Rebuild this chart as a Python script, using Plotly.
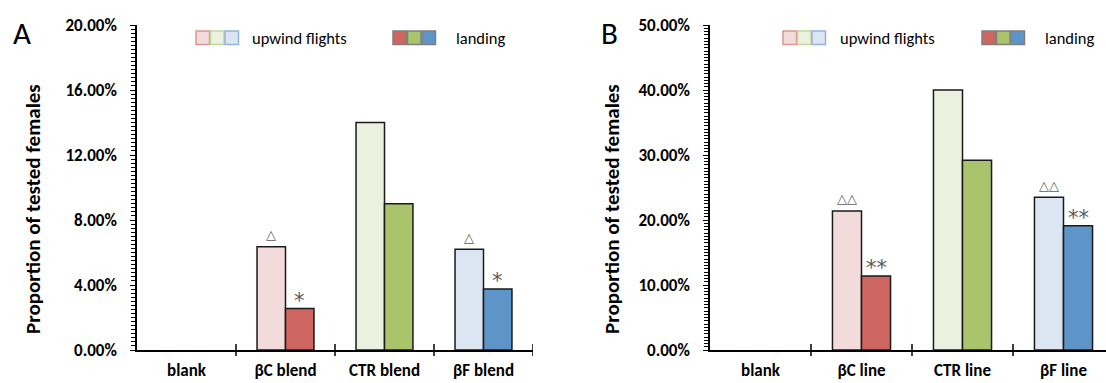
import plotly.graph_objects as go

# ---------------- data ----------------
cats_a = ["blank", "βC blend", "CTR blend", "βF blend"]
cats_b = ["blank", "βC line", "CTR line", "βF line"]

upwind_a = [0, 6.35, 14.0, 6.2]
landing_a = [0, 2.55, 9.0, 3.75]
upwind_b = [0, 21.4, 40.0, 23.5]
landing_b = [0, 11.4, 29.2, 19.1]

sig_up_a = ["", "△", "", "△"]
sig_land_a = ["", "*", "", "*"]
sig_up_b = ["", "△△", "", "△△"]
sig_land_b = ["", "**", "", "**"]

light_cols = ["#F2DCDB", "#F2DCDB", "#EBF1DE", "#DCE6F2"]
dark_cols = ["#CD6660", "#CD6660", "#AAC46C", "#5D95C9"]
legend_border = ["#D99694", "#C3D69B", "#95B3D7"]

# ---------------- layout geometry (px) ----------------
W, H = 1106, 383
T, B = 25, 33
PH = H - T - B
FONT = "Carlito, Lato, 'Open Sans', sans-serif"


def px_x(p):
    return p / W


def px_y(p):
    return (H - B - p) / PH


def line_widths(vals):
    return [1.5 if v > 0 else 0 for v in vals]


fig = go.Figure()

fig.add_trace(go.Bar(x=cats_a, y=upwind_a,
                     marker=dict(color=light_cols, line=dict(color="#1a1a1a", width=line_widths(upwind_a))),
                     xaxis="x", yaxis="y", showlegend=False))
fig.add_trace(go.Bar(x=cats_a, y=landing_a,
                     marker=dict(color=dark_cols, line=dict(color="#1a1a1a", width=line_widths(landing_a))),
                     xaxis="x", yaxis="y", showlegend=False))
fig.add_trace(go.Bar(x=cats_b, y=upwind_b,
                     marker=dict(color=light_cols, line=dict(color="#1a1a1a", width=line_widths(upwind_b))),
                     xaxis="x2", yaxis="y2", showlegend=False))
fig.add_trace(go.Bar(x=cats_b, y=landing_b,
                     marker=dict(color=dark_cols, line=dict(color="#1a1a1a", width=line_widths(landing_b))),
                     xaxis="x2", yaxis="y2", showlegend=False))

BARGAP = 0.425
half = (1 - BARGAP) / 4.0  # offset of each bar centre from category centre

tickfont = dict(family=FONT, size=17, color="black", weight="bold")
catfont = dict(family=FONT, size=17, color="black", weight="bold")

xa_common = dict(type="category", showline=True, linecolor="black", linewidth=1.5,
                 ticks="", ticklen=0, tickfont=catfont, showgrid=False, zeroline=False,
                 ticklabelstandoff=4, fixedrange=True)
ya_common = dict(showline=True, linecolor="black", linewidth=1.5, ticks="outside",
                 ticklen=5, tickwidth=1, tickcolor="black", tickfont=tickfont,
                 showgrid=False, zeroline=False, tickformat=".2f", ticksuffix="%",
                 ticklabelstandoff=10)

a_left, a_right = 137, 533
b_left = 710
b_catw = 101
b_span = (W - b_left) / b_catw

fig.update_layout(
    width=W, height=H,
    margin=dict(l=0, r=0, t=T, b=B),
    paper_bgcolor="white", plot_bgcolor="white",
    barmode="group", bargap=BARGAP, bargroupgap=0,
    xaxis=dict(domain=[px_x(a_left), px_x(a_right)], anchor="y",
               range=[-0.5, 3.5], **xa_common),
    yaxis=dict(domain=[0, 1], anchor="x", range=[0, 20], dtick=4,
               minor=dict(dtick=0.25, ticks="outside", ticklen=4, tickcolor="black", tickwidth=1),
               **ya_common),
    xaxis2=dict(domain=[px_x(b_left), 1.0], anchor="y2",
                range=[-0.5, -0.5 + b_span], **xa_common),
    yaxis2=dict(domain=[0, 1], anchor="x2", range=[0, 50], dtick=10,
                minor=dict(dtick=0.5, ticks="outside", ticklen=4, tickcolor="black", tickwidth=1),
                **ya_common),
)

shapes = []
# crossing category separators
for xr, n in (("x", 4), ("x2", 3)):
    for i in range(n):
        shapes.append(dict(type="line", xref=xr, yref="paper", x0=i + 0.5, x1=i + 0.5,
                           y0=-6 / PH, y1=6 / PH, line=dict(color="black", width=1.5)))


# custom legends
def legend_boxes(x0, y0, size, fills, borders, bw):
    out = []
    for k in range(3):
        xs = x0 + k * (size + 1)
        out.append(dict(type="rect", xref="paper", yref="paper",
                        x0=px_x(xs), x1=px_x(xs + size), y0=px_y(y0 + size), y1=px_y(y0),
                        fillcolor=fills[k], line=dict(color=borders[k], width=bw)))
    return out


light_leg = [light_cols[1], light_cols[2], light_cols[3]]
dark_leg = [dark_cols[1], dark_cols[2], dark_cols[3]]

shapes += legend_boxes(196, 31, 13.5, light_leg, legend_border, 1.5)
shapes += legend_boxes(393, 31, 13.5, dark_leg, ["#7F7F7F"] * 3, 1.5)
shapes += legend_boxes(783, 31, 13.5, light_leg, legend_border, 1.5)
shapes += legend_boxes(982, 31, 13.5, dark_leg, ["#7F7F7F"] * 3, 1.5)

annotations = []
legfont = dict(family=FONT, size=16.5, color="black")
for xpx, txt in ((250, "upwind flights"), (454, "landing"), (838, "upwind flights"), (1043, "landing")):
    annotations.append(dict(xref="paper", yref="paper", x=px_x(xpx), y=px_y(38),
                            text=txt, showarrow=False, xanchor="left", yanchor="middle",
                            font=legfont))

# panel letters
for xpx, txt in ((21.5, "A"), (609, "B")):
    annotations.append(dict(xref="paper", yref="paper", x=px_x(xpx), y=px_y(33),
                            text=txt, showarrow=False, xanchor="center", yanchor="middle",
                            font=dict(family=FONT, size=31, color="black")))

# y titles
for xpx in (33, 612):
    annotations.append(dict(xref="paper", yref="paper", x=px_x(xpx), y=px_y(209),
                            text="Proportion of tested females", textangle=-90,
                            showarrow=False, xanchor="center", yanchor="middle",
                            font=dict(family=FONT, size=21, color="black", weight="bold")))


# significance marks
def sig_marks(xr, yr, ups, lands, sup, sland):
    out = []
    for i in range(len(ups)):
        if sup[i]:
            out.append(dict(xref=xr, yref=yr, x=i - half, y=ups[i], yshift=12,
                            text=sup[i], showarrow=False, yanchor="middle",
                            font=dict(family="DejaVu Sans", size=13, color="#5a5a5a")))
        if sland[i]:
            out.append(dict(xref=xr, yref=yr, x=i + half, y=lands[i], yshift=8,
                            text=sland[i], showarrow=False, yanchor="middle",
                            font=dict(family="DejaVu Sans", size=21, color="#5a5a5a")))
    return out


annotations += sig_marks("x", "y", upwind_a, landing_a, sig_up_a, sig_land_a)
annotations += sig_marks("x2", "y2", upwind_b, landing_b, sig_up_b, sig_land_b)

fig.update_layout(shapes=shapes, annotations=annotations)

fig.write_html("out.html",
               config={"displayModeBar": False},
               post_script="document.body.style.margin='0';document.body.style.overflow='hidden';")
